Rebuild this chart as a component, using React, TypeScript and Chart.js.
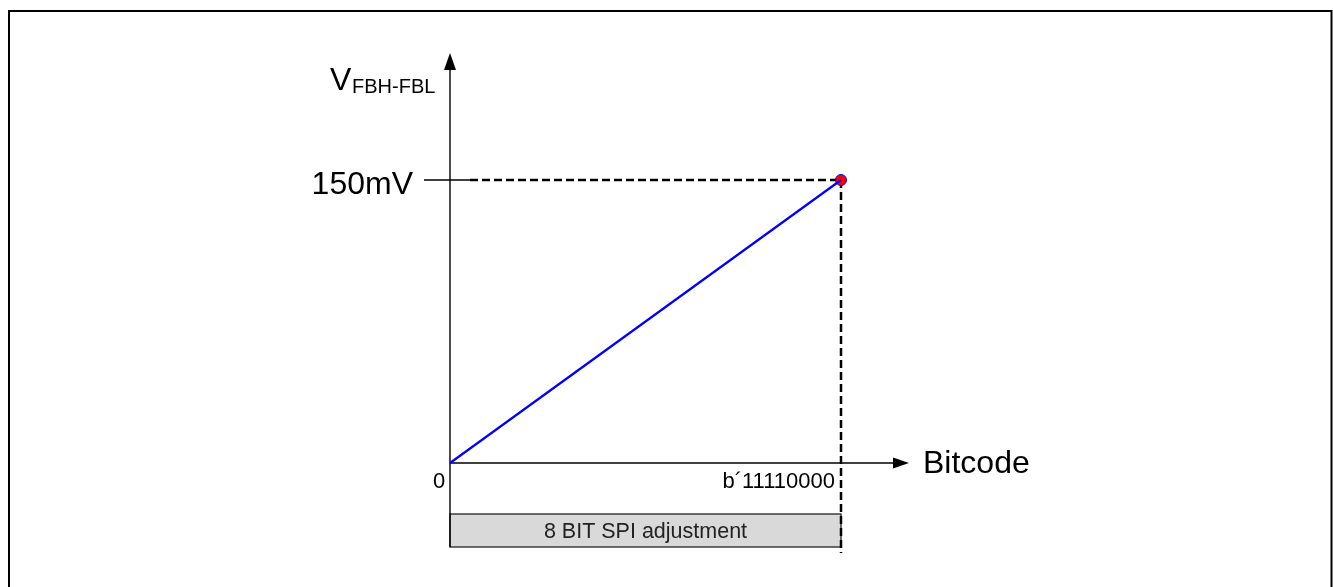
import React, { useEffect, useRef } from "react";
import { Chart, registerables } from "chart.js";

Chart.register(...registerables);

// Data
const bitcodes = [0, 240]; // b'00000000 .. b'11110000
const voltagesMv = [0, 150];
const xTickLabels = ["0", "b\u00B411110000"];
const yTickLabels = ["150mV"];
const yAxisTitle = "V";
const yAxisSub = "FBH-FBL";
const xAxisTitle = "Bitcode";
const rangeLabel = "8 BIT SPI adjustment";

const FONT = '"Liberation Sans", Arial, Helvetica, sans-serif';

const diagramPlugin = {
  id: "diagram",
  beforeDatasetsDraw(chart: any) {
    const { ctx } = chart;
    const xs = chart.scales.x;
    const ys = chart.scales.y;
    const x0 = xs.getPixelForValue(bitcodes[0]);
    const x1 = xs.getPixelForValue(bitcodes[bitcodes.length - 1]);
    const y0 = ys.getPixelForValue(voltagesMv[0]);
    const y1 = ys.getPixelForValue(voltagesMv[voltagesMv.length - 1]);

    ctx.save();
    // frame
    ctx.strokeStyle = "#000";
    ctx.lineWidth = 2;
    ctx.strokeRect(9, 11, chart.width - 10.5, chart.height + 20);

    // gray range box
    const boxTop = y0 + 51;
    const boxBot = y0 + 84;
    ctx.fillStyle = "#d9d9d9";
    ctx.fillRect(x0, boxTop, x1 - x0, boxBot - boxTop);
    ctx.strokeStyle = "#222";
    ctx.lineWidth = 1.3;
    ctx.strokeRect(x0, boxTop, x1 - x0, boxBot - boxTop);

    // dashed guides
    ctx.strokeStyle = "#000";
    ctx.lineWidth = 2.5;
    ctx.setLineDash([8, 4]);
    ctx.beginPath();
    ctx.moveTo(x0 + 20, y1);
    ctx.lineTo(x1, y1);
    ctx.moveTo(x1, y1);
    ctx.lineTo(x1, boxBot + 6);
    ctx.stroke();
    ctx.setLineDash([]);

    // tick at 150mV
    ctx.lineWidth = 1.3;
    ctx.beginPath();
    ctx.moveTo(x0 - 26, y1);
    ctx.lineTo(x0 + 20, y1);
    ctx.stroke();

    // y axis
    ctx.lineWidth = 1.4;
    ctx.beginPath();
    ctx.moveTo(x0, boxBot);
    ctx.lineTo(x0, 66);
    ctx.stroke();
    ctx.fillStyle = "#000";
    ctx.beginPath();
    ctx.moveTo(x0, 53);
    ctx.lineTo(x0 - 6, 70);
    ctx.lineTo(x0 + 6, 70);
    ctx.closePath();
    ctx.fill();

    // x axis
    const arrowTip = 909;
    ctx.beginPath();
    ctx.moveTo(x0, y0);
    ctx.lineTo(arrowTip - 14, y0);
    ctx.stroke();
    ctx.beginPath();
    ctx.moveTo(arrowTip, y0);
    ctx.lineTo(arrowTip - 16, y0 - 5.5);
    ctx.lineTo(arrowTip - 16, y0 + 5.5);
    ctx.closePath();
    ctx.fill();

    // texts
    ctx.fillStyle = "#000";
    ctx.textBaseline = "alphabetic";
    ctx.font = `32px ${FONT}`;
    ctx.textAlign = "left";
    ctx.fillText(yAxisTitle, 330, 90);
    ctx.font = `20px ${FONT}`;
    ctx.fillText(yAxisSub, 352, 93);

    ctx.font = `32px ${FONT}`;
    ctx.textAlign = "right";
    ctx.fillText(yTickLabels[0], x0 - 37, y1 + 14);

    ctx.textAlign = "left";
    ctx.fillText(xAxisTitle, arrowTip + 14, y0 + 10);

    ctx.font = `22px ${FONT}`;
    ctx.textAlign = "center";
    ctx.fillText(xTickLabels[0], x0 - 11, y0 + 25);
    ctx.textAlign = "right";
    ctx.fillText(xTickLabels[1], x1 - 6, y0 + 25);

    ctx.fillStyle = "#222";
    ctx.font = `21.5px ${FONT}`;
    ctx.textAlign = "center";
    ctx.fillText(rangeLabel, (x0 + x1) / 2, boxTop + 24);
    ctx.restore();
  },
};

export default function App() {
  const ref = useRef<HTMLCanvasElement | null>(null);
  useEffect(() => {
    if (!ref.current) return;
    const pts = bitcodes.map((b, i) => ({ x: b, y: voltagesMv[i] }));
    const chart = new Chart(ref.current, {
      type: "scatter",
      data: {
        datasets: [
          {
            data: pts,
            showLine: true,
            borderColor: "#0000ff",
            borderWidth: 2.2,
            pointRadius: 0,
            clip: false,
          } as any,
          {
            data: [pts[pts.length - 1]],
            pointRadius: 5.5,
            pointBackgroundColor: "#ff0000",
            pointBorderColor: "#0000ff",
            pointBorderWidth: 1,
            clip: false,
          } as any,
        ],
      },
      options: {
        responsive: false,
        animation: false,
        devicePixelRatio: 1,
        layout: { padding: { left: 450, right: 492, top: 180, bottom: 124 } },
        plugins: { legend: { display: false }, tooltip: { enabled: false } },
        scales: {
          x: { type: "linear", min: 0, max: 240, display: false },
          y: { type: "linear", min: 0, max: 150, display: false },
        },
      },
      plugins: [diagramPlugin],
    });
    return () => chart.destroy();
  }, []);
  return (
    <div style={{ position: "fixed", left: 0, top: 0, width: 1333, height: 587, background: "#fff" }}>
      <canvas ref={ref} width={1333} height={587} />
    </div>
  );
}
